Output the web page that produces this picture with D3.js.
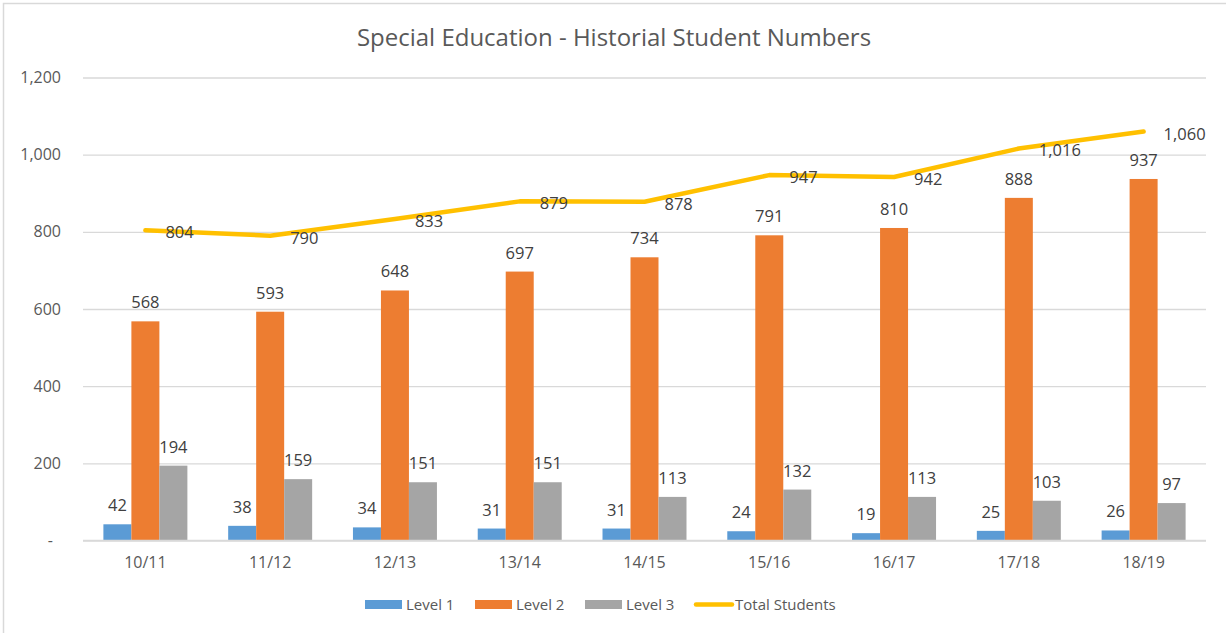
<!DOCTYPE html>
<html><head><meta charset="utf-8">
<script src="https://cdn.jsdelivr.net/npm/d3@7"></script>
<style>
html,body{margin:0;padding:0;background:#fff;}
svg{display:block;font-family:"Open Sans",sans-serif;}
</style></head>
<body><svg id="c" width="1226" height="633"></svg>
<script>
const categories = ["10/11","11/12","12/13","13/14","14/15","15/16","16/17","17/18","18/19"];
const level1 = [42,38,34,31,31,24,19,25,26];
const level2 = [568,593,648,697,734,791,810,888,937];
const level3 = [194,159,151,151,113,132,113,103,97];
const totalStudents = [804,790,833,879,878,947,942,1016,1060];
const yTicks = [0,200,400,600,800,1000,1200];
const seriesNames = ["Level 1","Level 2","Level 3"];
const seriesColors = ["#5B9BD5","#ED7D31","#A5A5A5"];
const lineName = "Total Students";
const lineColor = "#FFC000";

const svg = d3.select("#c");
const m = {left:83, right:1206, top:77.5, bottom:540.5};

svg.append("rect").attr("x",3.5).attr("y",3.5).attr("width",1240).attr("height",660)
  .attr("fill","none").attr("stroke","#D9D9D9").attr("stroke-width",1.5);

svg.append("text").attr("x",614).attr("y",46).attr("text-anchor","middle")
  .attr("font-size",24).attr("fill","#595959").text("Special Education - Historial Student Numbers");

const pi = 1 - 84/124.8;
const x = d3.scaleBand().domain(categories).range([m.left,m.right]).paddingInner(pi).paddingOuter(pi/2);
const xs = d3.scaleBand().domain(seriesNames).range([0,x.bandwidth()]);
const y = d3.scaleLinear().domain([0,1200]).range([m.bottom,m.top]);

const yAxis = d3.axisLeft(y).tickValues(yTicks).tickSize(-(m.right-m.left)).tickPadding(22)
  .tickFormat(d => d===0 ? "-" : d3.format(",")(d));
const gy = svg.append("g").attr("transform",`translate(${m.left},0)`).call(yAxis);
gy.select(".domain").remove();
gy.selectAll(".tick line").attr("stroke","#D9D9D9").attr("stroke-width",1.3);
gy.selectAll(".tick text").attr("font-size",16).attr("fill","#595959").attr("font-family","Open Sans")
  .attr("dx", d => d===0 ? -8 : 0);

const data = [level1, level2, level3];
seriesNames.forEach((s,si)=>{
  const g = svg.append("g");
  g.selectAll("rect").data(data[si]).join("rect")
    .attr("x",(d,i)=>x(categories[i])+xs(s))
    .attr("width",xs.bandwidth())
    .attr("y",d=>y(d)).attr("height",d=>y(0)-y(d))
    .attr("fill",seriesColors[si]);
  g.selectAll("text").data(data[si]).join("text")
    .attr("x",(d,i)=>x(categories[i])+xs(s)+xs.bandwidth()/2)
    .attr("y",d=>y(d)-13).attr("text-anchor","middle")
    .attr("font-size",16.5).attr("fill","#404040").text(d=>d3.format(",")(d));
});

svg.append("line").attr("x1",m.left).attr("x2",m.right).attr("y1",y(0)).attr("y2",y(0))
  .attr("stroke","#D9D9D9").attr("stroke-width",1.3);

const xAxis = d3.axisBottom(x).tickSize(0).tickPadding(16);
const gx = svg.append("g").attr("transform",`translate(0,${y(0)})`).call(xAxis);
gx.select(".domain").remove();
gx.selectAll(".tick text").attr("font-size",16).attr("fill","#595959").attr("font-family","Open Sans");

const cx = c => x(c)+x.bandwidth()/2;
svg.append("path").datum(totalStudents)
  .attr("d", d3.line().x((d,i)=>cx(categories[i])).y(d=>y(d)))
  .attr("fill","none").attr("stroke",lineColor).attr("stroke-width",4.5).attr("stroke-linecap","round").attr("stroke-linejoin","round");
svg.append("g").selectAll("text").data(totalStudents).join("text")
  .attr("x",(d,i)=>cx(categories[i])+20).attr("y",d=>y(d)+8)
  .attr("font-size",16.5).attr("fill","#404040").text(d=>d3.format(",")(d));

const lg = svg.append("g");
const legItems = [
  {name:"Level 1", color:seriesColors[0], x:365, type:"rect"},
  {name:"Level 2", color:seriesColors[1], x:475, type:"rect"},
  {name:"Level 3", color:seriesColors[2], x:585, type:"rect"},
  {name:lineName, color:lineColor, x:694, type:"line"}
];
legItems.forEach(it=>{
  if(it.type==="rect"){
    lg.append("rect").attr("x",it.x).attr("y",600).attr("width",37).attr("height",9).attr("fill",it.color);
  } else {
    lg.append("line").attr("x1",it.x+2).attr("x2",it.x+38).attr("y1",604.5).attr("y2",604.5)
      .attr("stroke",it.color).attr("stroke-width",4.5).attr("stroke-linecap","round");
  }
  lg.append("text").attr("x",it.x+41).attr("y",610).attr("font-size",15).attr("fill","#595959").text(it.name);
});
</script></body></html>
